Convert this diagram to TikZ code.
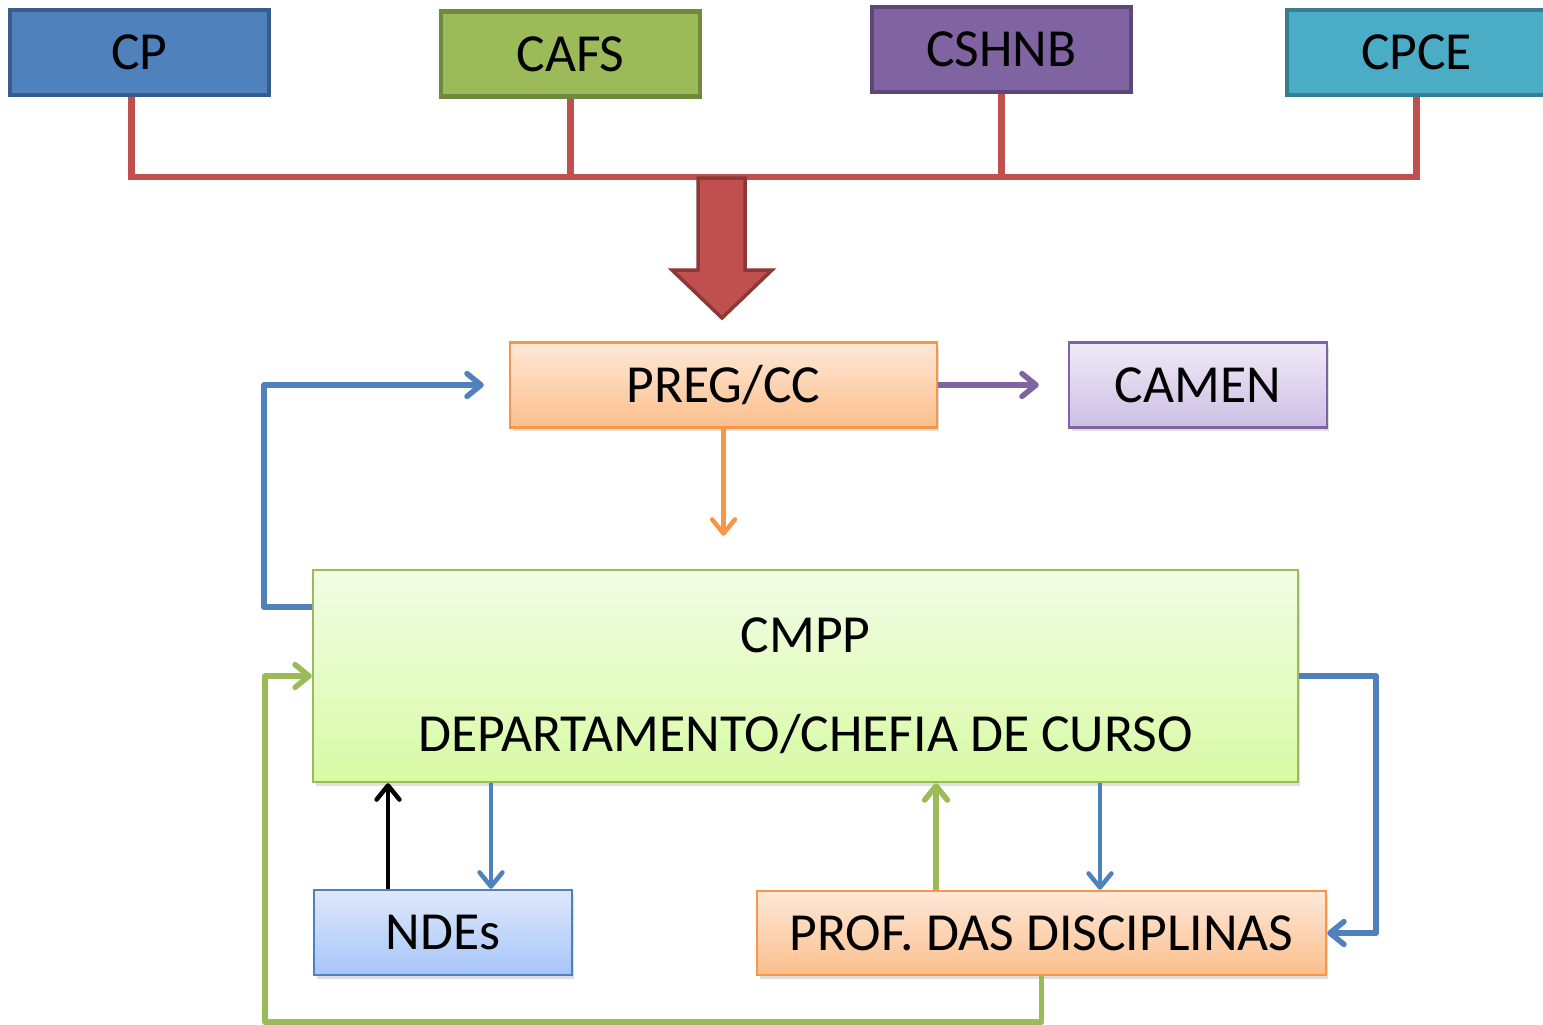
\documentclass[tikz,border=0pt]{standalone}
\usepackage{fontspec}
\setmainfont{Carlito}
\usepackage{tikz}
\usetikzlibrary{positioning,arrows.meta,calc,shadows}
\definecolor{cpblue}{HTML}{4F81BD}
\definecolor{cpblueline}{HTML}{385D8A}
\definecolor{cafsgreen}{HTML}{9BBB59}
\definecolor{cafsgreenline}{HTML}{71893F}
\definecolor{cshnbpurple}{HTML}{8064A2}
\definecolor{cshnbpurpleline}{HTML}{5C4776}
\definecolor{cpceteal}{HTML}{4BACC6}
\definecolor{cpcetealline}{HTML}{357D91}
\definecolor{busred}{HTML}{C0504D}
\definecolor{busredline}{HTML}{8C3836}
\definecolor{pregorange}{HTML}{F79646}
\definecolor{pregtop}{HTML}{FEE8D8}
\definecolor{pregbottom}{HTML}{FBBF8C}
\definecolor{camentop}{HTML}{EFEAF6}
\definecolor{camenbottom}{HTML}{CDBFE4}
\definecolor{cmpptop}{HTML}{F2FDE6}
\definecolor{cmppbottom}{HTML}{D8FAA4}
\definecolor{ndestop}{HTML}{DFE8FB}
\definecolor{ndesbottom}{HTML}{A6C5F9}

\begin{document}
\begin{tikzpicture}[x=0.02cm, y=-0.02cm,
    topbox/.style={draw, line width=0.09cm, minimum width=5.18cm,
                   minimum height=1.7cm, inner sep=0pt,
                   font=\fontsize{30.5}{36}\selectfont},
    flowbox/.style={draw, line width=0.05cm, minimum height=1.7cm,
                    inner sep=0pt, align=center,
                    font=\fontsize{30.5}{36}\selectfont,
                    drop shadow={shadow xshift=0.05cm, shadow yshift=-0.08cm,
                                 opacity=0.25}},
    link/.style={line width=#1, line join=round,
                 -{Straight Barb[round,length=8pt,width=13pt]}},
    link/.default=0.11cm,
]
\useasboundingbox (0,0) rectangle (1543,1025);

% committees on top
\node[topbox, fill=cpblue, draw=cpblueline] (cp) at (139.5,52.5) {CP};
\node[topbox, fill=cafsgreen, draw=cafsgreenline] (cafs) at (570.5,54) {CAFS};
\node[topbox, fill=cshnbpurple, draw=cshnbpurpleline] (cshnb) at (1001.5,49.5) {CSHNB};
\node[topbox, fill=cpceteal, draw=cpcetealline] (cpce) at (1416.5,52.5) {CPCE};

\coordinate (bus) at (0,177);
\draw[busred, line width=0.13cm]
    ([xshift=-0.16cm]cp.south) -- ([xshift=-0.16cm]cp.south |- bus)
    -- (cpce.south |- bus) -- (cpce.south);
\foreach \n in {cafs,cshnb}
    \draw[busred, line width=0.13cm] (\n.south) -- (\n.south |- bus);

% big arrow
\draw[fill=busred, draw=busredline, line width=0.07cm]
    (698,178) -- (745,178) -- (745,270) -- (772,270) -- (722,318)
    -- (672,270) -- (698,270) -- cycle;

% flow boxes
\node[flowbox, minimum width=8.54cm, draw=pregorange,
      top color=pregtop, bottom color=pregbottom] (preg) at (723.5,385) {PREG/CC};
\node[flowbox, minimum width=5.16cm, draw=cshnbpurple,
      top color=camentop, bottom color=camenbottom] (camen) at (1198,385) {CAMEN};
\node[flowbox, minimum width=19.7cm, minimum height=4.24cm, draw=cafsgreen,
      top color=cmpptop, bottom color=cmppbottom,
      font=\fontsize{30.5}{56}\selectfont] (cmpp) at (805.5,676)
    {\rule{0pt}{1.08cm}CMPP\\DEPARTAMENTO/CHEFIA DE CURSO};
\node[flowbox, minimum width=5.16cm, draw=cpblue,
      top color=ndestop, bottom color=ndesbottom] (ndes) at (443,932.5) {NDEs};
\node[flowbox, minimum width=11.38cm, minimum height=1.68cm, draw=pregorange,
      top color=pregtop, bottom color=pregbottom] (prof) at (1041.5,933)
    {PROF. DAS DISCIPLINAS};

% connectors
\draw[link, cshnbpurple] (preg.east) -- ([xshift=-0.58cm]camen.west);
\draw[link=0.09cm, pregorange] (preg.south) -- ++(0,107);
\draw[link, cpblue] ([yshift=1.38cm]cmpp.west) -- ++(-48,0)
    |- ([xshift=-0.5cm]preg.west);
\draw[link, cpblue] (cmpp.east) -- ++(77,0) |- (prof.east);
\coordinate (gcorner) at (265,1022);
\draw[link, cafsgreen] (prof.south) |- (gcorner) |- (cmpp.west);
\draw[link=0.09cm, black] ([xshift=-1.1cm]ndes.north)
    -- ([xshift=-1.1cm]ndes.north |- cmpp.south);
\draw[link=0.09cm, cpblue] ([xshift=0.96cm]ndes.north |- cmpp.south)
    -- ([xshift=0.96cm]ndes.north);
\draw[link, cafsgreen] ([xshift=-2.11cm]prof.north)
    -- ([xshift=-2.11cm]prof.north |- cmpp.south);
\draw[link=0.09cm, cpblue] ([xshift=1.17cm]prof.north |- cmpp.south)
    -- ([xshift=1.17cm]prof.north);
\end{tikzpicture}
\end{document}
